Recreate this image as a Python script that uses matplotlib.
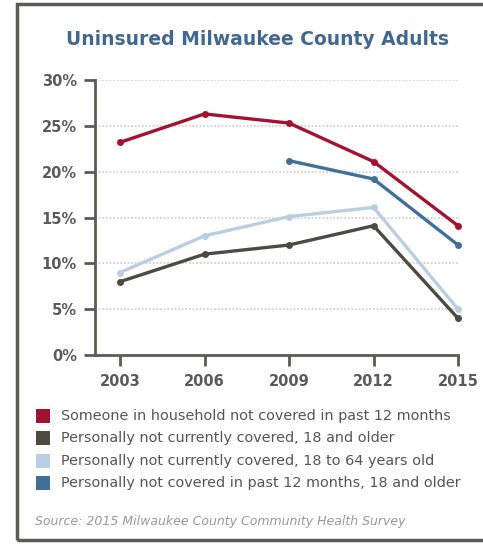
import matplotlib.pyplot as plt
from matplotlib.patches import Rectangle

years = [2003, 2006, 2009, 2012, 2015]

household_12mo = [23.2, 26.3, 25.3, 21.1, 14.1]
personal_18_older = [8.0, 11.0, 12.0, 14.1, 4.0]
personal_18_64 = [9.0, 13.0, 15.1, 16.1, 5.0]
personal_12mo_years = [2009, 2012, 2015]
personal_12mo = [21.2, 19.2, 12.0]

labels = [
    "Someone in household not covered in past 12 months",
    "Personally not currently covered, 18 and older",
    "Personally not currently covered, 18 to 64 years old",
    "Personally not covered in past 12 months, 18 and older",
]
colors = ["#a3122f", "#4b4b42", "#b9cfe1", "#3f7099"]

y_ticks = [0, 5, 10, 15, 20, 25, 30]

plt.rcParams['font.family'] = ['DejaVu Sans']

fig = plt.figure(figsize=(4.83, 5.44), dpi=100)
fig.patch.set_facecolor("white")

# outer frame
fig.patches.append(Rectangle((17 / 483, 4 / 544), 1.0, 536 / 544,
                             transform=fig.transFigure, fill=False,
                             edgecolor="#5c5c52", linewidth=2.5))

fig.text(0.533, 0.928, "Uninsured Milwaukee County Adults", ha="center",
         va="center", fontsize=13.5, fontweight="bold", color="#41688f")

ax = fig.add_axes([95 / 483, 189 / 544, 363 / 483, 275 / 544])

series = [
    (years, household_12mo),
    (years, personal_18_older),
    (years, personal_18_64),
    (personal_12mo_years, personal_12mo),
]
for (xs, ys), c in zip(series, colors):
    ax.plot(xs, ys, color=c, linewidth=2.4, marker="o", markersize=4,
            clip_on=False, zorder=3)

ax.set_xlim(2002.11, 2015)
ax.set_ylim(0, 30)
ax.set_xticks(years)
ax.set_yticks(y_ticks)
ax.set_yticklabels([f"{v}%" for v in y_ticks])

for v in y_ticks[1:]:
    ax.axhline(v, color="#d2d2d2", linestyle=(0, (1, 1)), linewidth=1.3,
               zorder=1)

for s in ["top", "right"]:
    ax.spines[s].set_visible(False)
for s in ["left", "bottom"]:
    ax.spines[s].set_color("#5c5c52")
    ax.spines[s].set_linewidth(2)

ax.tick_params(axis="both", direction="out", length=8, width=2,
               color="#5c5c52", labelcolor="#5a5a5a", labelsize=10.5)
ax.tick_params(axis="x", pad=6)
ax.tick_params(axis="y", pad=5)
for t in ax.get_xticklabels() + ax.get_yticklabels():
    t.set_fontweight("bold")

# legend
row_y = [416, 438, 461, 483]
for lab, c, yy in zip(labels, colors, row_y):
    fy = 1 - yy / 544
    fig.patches.append(Rectangle((36 / 483, fy - 7 / 544), 14 / 483, 14 / 544,
                                 transform=fig.transFigure, facecolor=c,
                                 edgecolor="none"))
    fig.text(61 / 483, fy, lab, ha="left", va="center", fontsize=10.4,
             color="#555555")

fig.text(35 / 483, 1 - 522 / 544,
         "Source: 2015 Milwaukee County Community Health Survey",
         ha="left", va="center", fontsize=9, style="italic", color="#999999")

fig.savefig("out.png", dpi=100)
